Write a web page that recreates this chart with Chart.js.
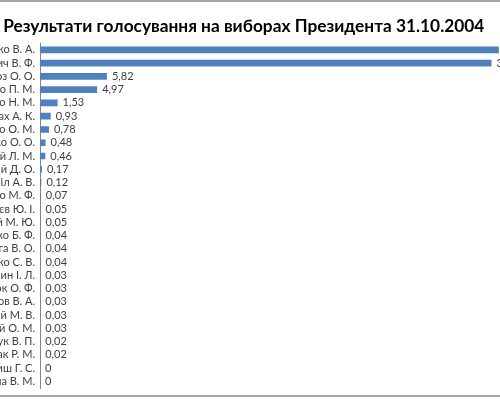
<!DOCTYPE html>
<html lang="uk">

<head>
  <meta charset="UTF-8" />
  <title>Результати голосування</title>
  <script src="https://cdn.jsdelivr.net/npm/chart.js"></script>
  <style>
    body { margin: 0; background: #fff; overflow: hidden; }
    .frame { position: absolute; left: 0; top: 0; width: 500px; height: 397px; box-sizing: border-box;
             border-top: 2px solid #a6a6a6; border-bottom: 2px solid #a6a6a6; }
    .wrap { position: absolute; left: -70px; top: 0; width: 640px; height: 400px; }
  </style>
</head>

<body>
  <div class="frame"></div>
  <div class="wrap">
    <canvas id="electionChart"></canvas>
  </div>

  <script>
    const chartTitle = 'Результати голосування на виборах Президента 31.10.2004';

    const candidates = [
      'Ющенко В. А.', 'Янукович В. Ф.', 'Мороз О. О.', 'Симоненко П. М.', 'Вітренко Н. М.',
      'Кінах А. К.', 'Яковенко О. М.', 'Омельченко О. О.', 'Черновецький Л. М.', 'Корчинський Д. О.',
      'Чорновіл А. В.', 'Кривенко М. Ф.', 'Збітнєв Ю. І.', 'Бродський М. Ю.', 'Бойко Б. Ф.',
      'Волга В. О.', 'Комісаренко С. В.', 'Душин І. Л.', 'Базилюк О. Ф.', 'Кривобоков В. А.',
      'Рогожинський М. В.', 'Ржавський О. М.', 'Нечипорук В. П.', 'Козак Р. М.', 'Кіриш Г. С.',
      'Дубина В. М.'
    ];

    const votes = [
      39.90, 39.26, 5.82, 4.97, 1.53,
      0.93, 0.78, 0.48, 0.46, 0.17,
      0.12, 0.07, 0.05, 0.05, 0.04,
      0.04, 0.04, 0.03, 0.03, 0.03,
      0.03, 0.03, 0.02, 0.02, 0,
      0
    ];

    Chart.defaults.font.family = 'Lato';

    // підписи значень праворуч від смуг
    const valueLabels = {
      id: 'valueLabels',
      afterDatasetsDraw(chart) {
        const ctx = chart.ctx;
        const meta = chart.getDatasetMeta(0);
        ctx.save();
        ctx.font = '11px Lato';
        ctx.fillStyle = '#404040';
        ctx.textAlign = 'left';
        ctx.textBaseline = 'middle';
        meta.data.forEach((bar, i) => {
          const txt = String(votes[i]).replace('.', ',');
          ctx.fillText(txt, bar.x + 5, bar.y);
        });
        ctx.restore();
      }
    };

    new Chart(document.getElementById('electionChart'), {
      type: 'bar',
      data: {
        labels: candidates,
        datasets: [{
          data: votes,
          backgroundColor: '#4f81bd',
          barPercentage: 0.5,
          categoryPercentage: 1
        }]
      },
      options: {
        indexAxis: 'y',
        responsive: true,
        maintainAspectRatio: false,
        animation: false,
        layout: { padding: { left: 0, right: 12.5, top: 0, bottom: 12 } },
        plugins: {
          legend: { display: false },
          tooltip: { enabled: false },
          title: {
            display: true,
            text: chartTitle,
            color: '#000',
            font: { size: 17.3, weight: 'bold' },
            padding: { top: 16, bottom: 6.5 }
          }
        },
        scales: {
          x: { display: false, min: 0, max: 45 },
          y: {
            grid: { display: false, drawTicks: false },
            border: { display: true, color: '#868686' },
            ticks: { autoSkip: false, padding: 5, color: '#404040', font: { size: 11 } },
            afterFit(scale) { scale.width = 110; }
          }
        }
      },
      plugins: [valueLabels]
    });
  </script>
</body>

</html>
